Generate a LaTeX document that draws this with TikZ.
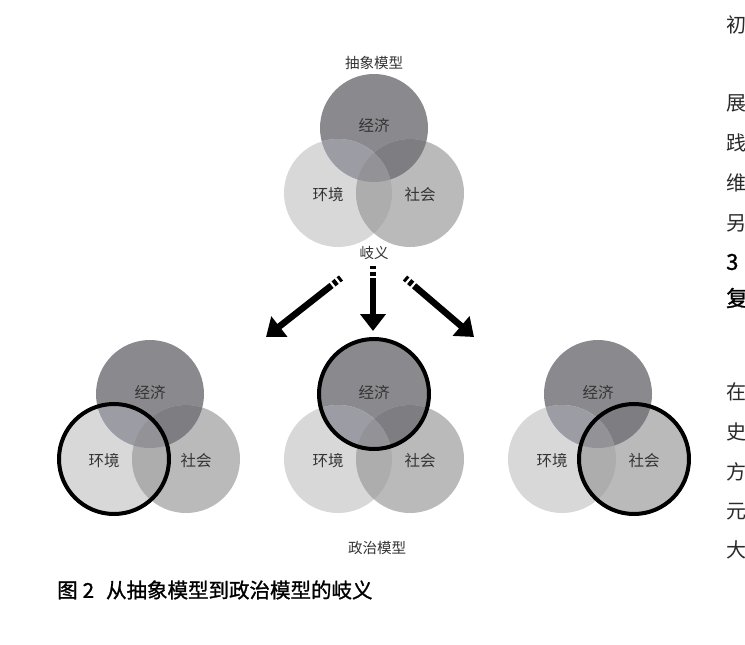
\documentclass[tikz,border=0pt]{standalone}
\usepackage{fontspec}
\setmainfont{Noto Sans CJK SC}
\newfontfamily\heavycjk[FakeBold=1.2]{Noto Sans CJK SC}
\usetikzlibrary{arrows.meta}
\definecolor{cA}{HTML}{8A8A8E}
\definecolor{cB}{HTML}{D8D8D8}
\definecolor{cC}{HTML}{BABABA}
\definecolor{cAB}{HTML}{9C9CA4}
\definecolor{cAC}{HTML}{7E7E82}
\definecolor{cBC}{HTML}{ADADAD}
\definecolor{cABC}{HTML}{939397}
\definecolor{lblgray}{HTML}{333333}
\definecolor{txtgray}{HTML}{2A2A2A}
\tikzset{
  lbl/.style={inner sep=0pt, text=lblgray, font=\fontsize{15.5}{18}\selectfont},
  titlelbl/.style={inner sep=0pt, text=lblgray, font=\fontsize{14.5}{17}\selectfont},
  sidetxt/.style={inner sep=0pt, anchor=west, text=txtgray, font=\fontsize{20}{23}\selectfont},
  sidehead/.style={inner sep=0pt, anchor=west, text=black, font=\heavycjk\fontsize{22}{26}\selectfont},
  captiontxt/.style={inner sep=0pt, anchor=west, text=black, font=\heavycjk\fontsize{20.5}{24}\selectfont},
  bigarrow/.style={line width=6.5pt, -{Triangle[width=25pt,length=17pt]},
    dash pattern=on 3pt off 2.5pt on 4pt off 2.5pt on 500pt},
  highlight/.style={draw=black, line width=4pt},
}
\newcommand{\vennset}[3]{%
  \coordinate (#3a) at (#1,#2);
  \coordinate (#3b) at (#1-36,#2+65);
  \coordinate (#3c) at (#1+36,#2+65);
  \fill[cA] (#3a) circle[radius=54pt];
  \fill[cB] (#3b) circle[radius=54pt];
  \fill[cC] (#3c) circle[radius=54pt];
  \begin{scope}
    \clip (#3a) circle[radius=54pt];
    \fill[cAB] (#3b) circle[radius=54pt];
    \fill[cAC] (#3c) circle[radius=54pt];
  \end{scope}
  \begin{scope}
    \clip (#3b) circle[radius=54pt];
    \fill[cBC] (#3c) circle[radius=54pt];
    \clip (#3a) circle[radius=54pt];
    \fill[cABC] (#3c) circle[radius=54pt];
  \end{scope}
  \node[lbl] (#3econ) at (#1,#2-2) {经济};
  \node[lbl] (#3env) at (#1-46,#2+67) {环境};
  \node[lbl] (#3soc) at (#1+46,#2+67) {社会};
}
\begin{document}
\begin{tikzpicture}[x=1pt,y=-1pt]
\useasboundingbox (0,0) rectangle (745,645);
\fill[white] (0,0) rectangle (745,645);
\clip (0,0) rectangle (745,645);

% top abstract model
\node[titlelbl] (abstract) at (374,63) {抽象模型};
\vennset{374}{128}{T}
\node[titlelbl] (ambig) at (374,253) {岐义};

% bottom three
\vennset{150}{394}{L}
\vennset{374}{394}{M}
\vennset{598}{394}{R}
\draw[highlight] (Lb) circle[radius=55pt];
\draw[highlight] (Ma) circle[radius=55pt];
\draw[highlight] (Rc) circle[radius=55pt];

% arrows
\coordinate (arLs) at (341,278);
\coordinate (arLe) at (266,337);
\coordinate (arMs) at (373,266);
\coordinate (arMe) at (373,331);
\coordinate (arRs) at (405,278);
\coordinate (arRe) at (474,337);
\draw[bigarrow] (arLs) -- (arLe);
\draw[bigarrow] (arMs) -- (arMe);
\draw[bigarrow] (arRs) -- (arRe);

\node[titlelbl] (political) at (377,548) {政治模型};
\node[captiontxt] (caption) at (57,590) {图\hspace{5pt}2\hspace{12pt}从抽象模型到政治模型的岐义};

% cut-off body text on the right
\node[sidetxt] (s1) at (726,25) {初};
\node[sidetxt] (s2) at (726,103) {展};
\node[sidetxt] (s3) at (726,143) {践};
\node[sidetxt] (s4) at (726,183) {维};
\node[sidetxt] (s5) at (726,223) {另};
\node[sidehead] (s6) at (726,262) {3};
\node[sidehead] (s7) at (726,298) {复};
\node[sidetxt] (s8) at (726,392) {在};
\node[sidetxt] (s9) at (726,432) {史};
\node[sidetxt] (s10) at (726,472) {方};
\node[sidetxt] (s11) at (726,512) {元};
\node[sidetxt] (s12) at (726,550) {大};
\end{tikzpicture}
\end{document}
